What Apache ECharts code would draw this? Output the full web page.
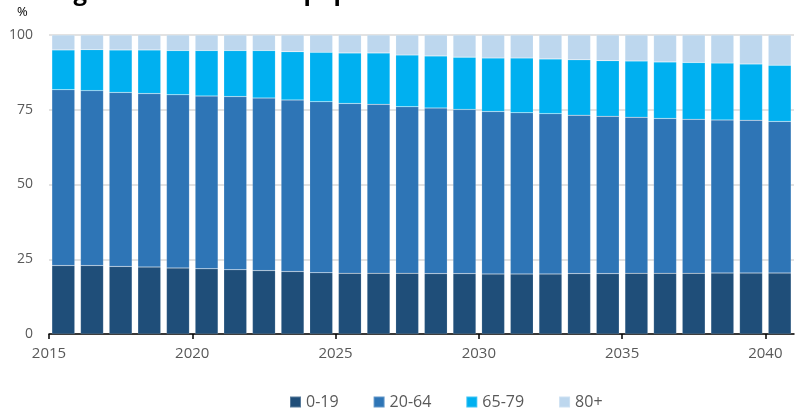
<!DOCTYPE html>
<html>
<head>
<meta charset="utf-8">
<script src="https://cdn.jsdelivr.net/npm/echarts@6/dist/echarts.min.js"></script>
<style>
  html, body { margin: 0; padding: 0; background: #fff; }
  #chart { width: 799px; height: 409px; }
</style>
</head>
<body>
<div id="chart"></div>
<script>
// years and the share (%) of each age group
var years = [2015, 2016, 2017, 2018, 2019, 2020, 2021, 2022, 2023, 2024, 2025, 2026, 2027,
             2028, 2029, 2030, 2031, 2032, 2033, 2034, 2035, 2036, 2037, 2038, 2039, 2040];
var age0_19 = [22.9, 22.9, 22.6, 22.4, 22.1, 21.8, 21.5, 21.2, 20.9, 20.5, 20.3, 20.3, 20.3,
               20.2, 20.2, 20.1, 20.1, 20.1, 20.2, 20.2, 20.3, 20.3, 20.3, 20.4, 20.4, 20.4];
var age20_64 = [58.8, 58.5, 58.2, 58.0, 57.9, 57.8, 57.9, 57.7, 57.4, 57.2, 56.8, 56.5, 55.7,
                55.4, 54.9, 54.3, 53.9, 53.6, 53.0, 52.6, 52.2, 51.8, 51.5, 51.2, 51.1, 50.7];
var age65_79 = [13.3, 13.7, 14.2, 14.6, 14.8, 15.2, 15.4, 15.9, 16.1, 16.5, 16.9, 17.2, 17.3,
                17.4, 17.5, 17.9, 18.3, 18.3, 18.5, 18.6, 18.8, 18.9, 19.0, 19.0, 18.8, 18.8];
var age80 = [5.0, 4.9, 5.0, 5.0, 5.2, 5.2, 5.2, 5.2, 5.6, 5.8, 6.0, 6.0, 6.7,
             7.0, 7.4, 7.7, 7.7, 8.0, 8.3, 8.6, 8.7, 9.0, 9.2, 9.4, 9.7, 10.1];
var xTicks = [2015, 2020, 2025, 2030, 2035, 2040];
var yTicks = [0, 25, 50, 75, 100];

var chart = echarts.init(document.getElementById('chart'), null, {renderer: 'canvas'});
var font = '"Open Sans", "Noto Sans", sans-serif';

function barSeries(name, data, color) {
    return {
        name: name,
        type: 'bar',
        stack: 'total',
        xAxisIndex: 0,
        yAxisIndex: 0,
        barCategoryGap: '20%',
        itemStyle: { color: color, borderColor: 'rgba(255,255,255,0.25)', borderWidth: 0.5 },
        emphasis: { disabled: true },
        data: data
    };
}

var option = {
    animation: false,
    textStyle: { fontFamily: font },
    title: {
        text: 'Age structure of the population',
        left: 52,
        top: -24,
        textStyle: { fontSize: 24, fontWeight: 'bold', color: '#000', fontFamily: font }
    },
    graphic: [{
        type: 'text',
        left: 17,
        top: 6,
        style: { text: '%', font: '13px ' + font, fill: '#000' }
    }],
    legend: {
        left: 284,
        top: 389,
        icon: 'rect',
        itemWidth: 11,
        itemHeight: 11,
        itemGap: 34,
        textStyle: { fontSize: 16, color: '#595959', fontFamily: font },
        data: ['0-19', '20-64', '65-79', '80+']
    },
    grid: { left: 49, right: 5, top: 35, bottom: 75, containLabel: false },
    xAxis: [{
        type: 'category',
        data: years,
        axisLine: { lineStyle: { color: '#000', width: 1.5 } },
        axisTick: { show: false },
        axisLabel: { show: false }
    }, {
        type: 'value',
        min: 2015,
        max: 2041,
        position: 'bottom',
        axisLine: { show: false },
        splitLine: { show: false },
        axisTick: { show: true, length: 5, lineStyle: { color: '#000', width: 1.5 }, customValues: xTicks },
        axisLabel: {
            color: '#595959', fontSize: 15, margin: 12, customValues: xTicks, fontFamily: font,
            formatter: function (v) { return String(v); }
        }
    }],
    yAxis: {
        type: 'value',
        min: 0,
        max: 100,
        interval: 25,
        axisLine: { show: false },
        axisTick: { show: false },
        axisLabel: { color: '#595959', fontSize: 14, margin: 16, fontFamily: font, customValues: yTicks },
        splitLine: { lineStyle: { color: '#d9d9d9', width: 1.5 } }
    },
    series: [
        barSeries('0-19', age0_19, '#1f4e79'),
        barSeries('20-64', age20_64, '#2e75b6'),
        barSeries('65-79', age65_79, '#00b0f0'),
        barSeries('80+', age80, '#bdd7ee')
    ]
};

chart.setOption(option);
</script>
</body>
</html>
